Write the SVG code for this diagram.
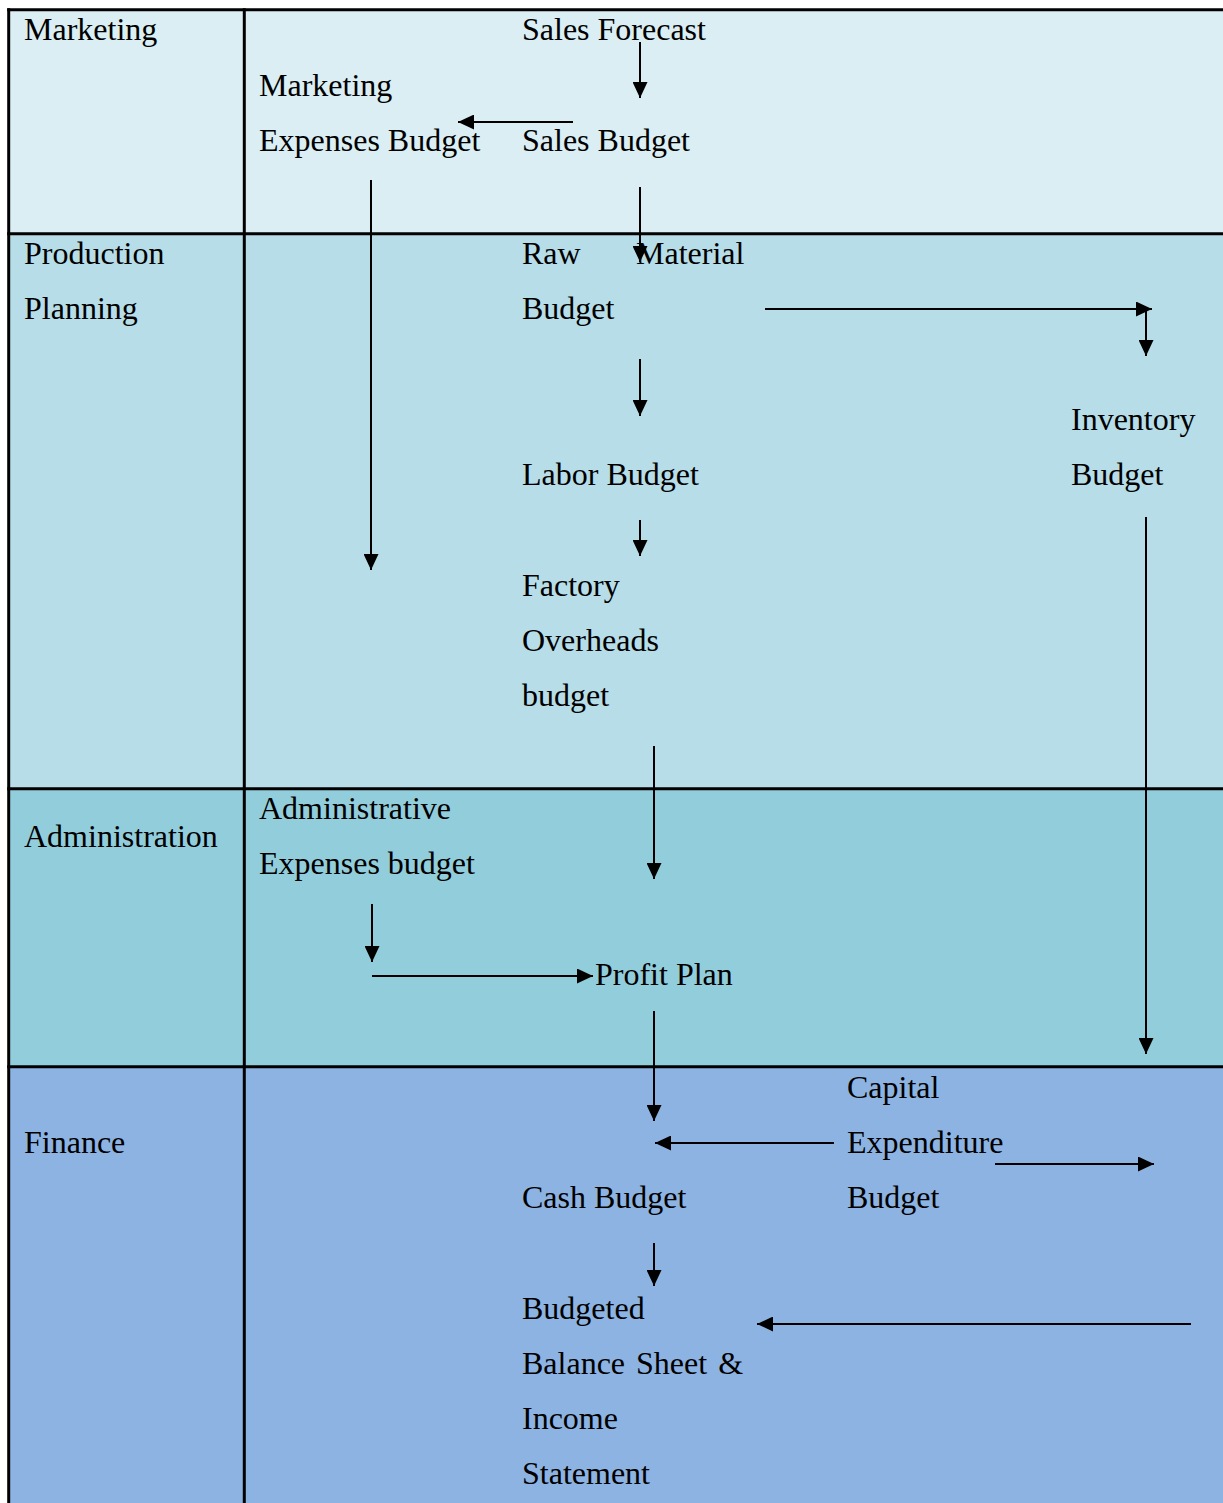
<svg xmlns="http://www.w3.org/2000/svg" width="1223" height="1503" viewBox="0 0 1223 1503">
  <style>
    text { font-family: "Liberation Serif", "Times New Roman", serif; font-size: 32px; fill: #000; }
    .rule { stroke: #000; stroke-width: 3; fill: none; }
    .flow { stroke: #000; stroke-width: 2; fill: none; marker-end: url(#head); }
    .plain { stroke: #000; stroke-width: 2; fill: none; }
  </style>
  <defs>
    <marker id="head" markerUnits="userSpaceOnUse" markerWidth="16" markerHeight="15" refX="16" refY="7.5" orient="auto">
      <path d="M0,0 L16,7.5 L0,15 z" fill="#000"/>
    </marker>
  </defs>

  <rect width="1223" height="1503" fill="#ffffff"/>

  <!-- swimlane bands -->
  <g id="lanes">
    <rect x="8.7" y="9.7" width="1214.3" height="224.1" fill="#DAEEF3"/>
    <rect x="8.7" y="233.8" width="1214.3" height="554.9" fill="#B6DDE8"/>
    <rect x="8.7" y="788.7" width="1214.3" height="278.1" fill="#92CDDC"/>
    <rect x="8.7" y="1066.8" width="1214.3" height="436.2" fill="#8DB3E2"/>
    <line class="rule" x1="7.2" y1="9.7" x2="1223" y2="9.7"/>
    <line class="rule" x1="8.7" y1="8.2" x2="8.7" y2="1503"/>
    <line class="rule" x1="244.3" y1="8.2" x2="244.3" y2="1503"/>
    <line class="rule" x1="7.2" y1="233.8" x2="1223" y2="233.8"/>
    <line class="rule" x1="7.2" y1="788.7" x2="1223" y2="788.7"/>
    <line class="rule" x1="7.2" y1="1066.8" x2="1223" y2="1066.8"/>
    <text x="24" y="40">Marketing</text>
    <text x="24" y="264">Production</text>
    <text x="24" y="319">Planning</text>
    <text x="24" y="847">Administration</text>
    <text x="24" y="1153">Finance</text>
  </g>

  <!-- budget nodes -->
  <g id="sales-forecast"><text x="522" y="40">Sales Forecast</text></g>
  <g id="marketing-expenses-budget">
    <text x="259" y="96">Marketing</text>
    <text x="259" y="151">Expenses Budget</text>
  </g>
  <g id="sales-budget"><text x="522" y="151">Sales Budget</text></g>
  <g id="raw-material-budget">
    <text x="522" y="264">Raw</text>
    <text x="636" y="264">Material</text>
    <text x="522" y="319">Budget</text>
  </g>
  <g id="inventory-budget">
    <text x="1071" y="430">Inventory</text>
    <text x="1071" y="485">Budget</text>
  </g>
  <g id="labor-budget"><text x="522" y="485">Labor Budget</text></g>
  <g id="factory-overheads-budget">
    <text x="522" y="596">Factory</text>
    <text x="522" y="651">Overheads</text>
    <text x="522" y="706">budget</text>
  </g>
  <g id="administrative-expenses-budget">
    <text x="259" y="819">Administrative</text>
    <text x="259" y="874">Expenses budget</text>
  </g>
  <g id="profit-plan"><text x="595" y="985">Profit Plan</text></g>
  <g id="capital-expenditure-budget">
    <text x="847" y="1098">Capital</text>
    <text x="847" y="1153">Expenditure</text>
    <text x="847" y="1208">Budget</text>
  </g>
  <g id="cash-budget"><text x="522" y="1208">Cash Budget</text></g>
  <g id="budgeted-statements">
    <text x="522" y="1319">Budgeted</text>
    <text x="522" y="1374" word-spacing="3">Balance Sheet &amp;</text>
    <text x="522" y="1429">Income</text>
    <text x="522" y="1484">Statement</text>
  </g>

  <!-- connectors -->
  <g id="connectors">
    <line class="flow" x1="640" y1="42" x2="640" y2="98"/>
    <line class="flow" x1="573" y1="122" x2="458" y2="122"/>
    <line class="flow" x1="640" y1="187" x2="640" y2="262"/>
    <line class="flow" x1="371" y1="180" x2="371" y2="570"/>
    <line class="flow" x1="765" y1="309" x2="1152" y2="309"/>
    <line class="flow" x1="1146" y1="309" x2="1146" y2="356"/>
    <line class="flow" x1="640" y1="359" x2="640" y2="416"/>
    <line class="flow" x1="640" y1="520" x2="640" y2="556"/>
    <line class="flow" x1="654" y1="746" x2="654" y2="879"/>
    <line class="flow" x1="372" y1="904" x2="372" y2="962"/>
    <line class="flow" x1="372" y1="976" x2="593" y2="976"/>
    <line class="flow" x1="654" y1="1011" x2="654" y2="1121"/>
    <line class="flow" x1="1146" y1="517" x2="1146" y2="1054"/>
    <line class="flow" x1="834" y1="1143" x2="655" y2="1143"/>
    <line class="flow" x1="995" y1="1164" x2="1154" y2="1164"/>
    <line class="flow" x1="654" y1="1243" x2="654" y2="1286"/>
    <line class="flow" x1="1191" y1="1324" x2="757" y2="1324"/>
  </g>
</svg>
